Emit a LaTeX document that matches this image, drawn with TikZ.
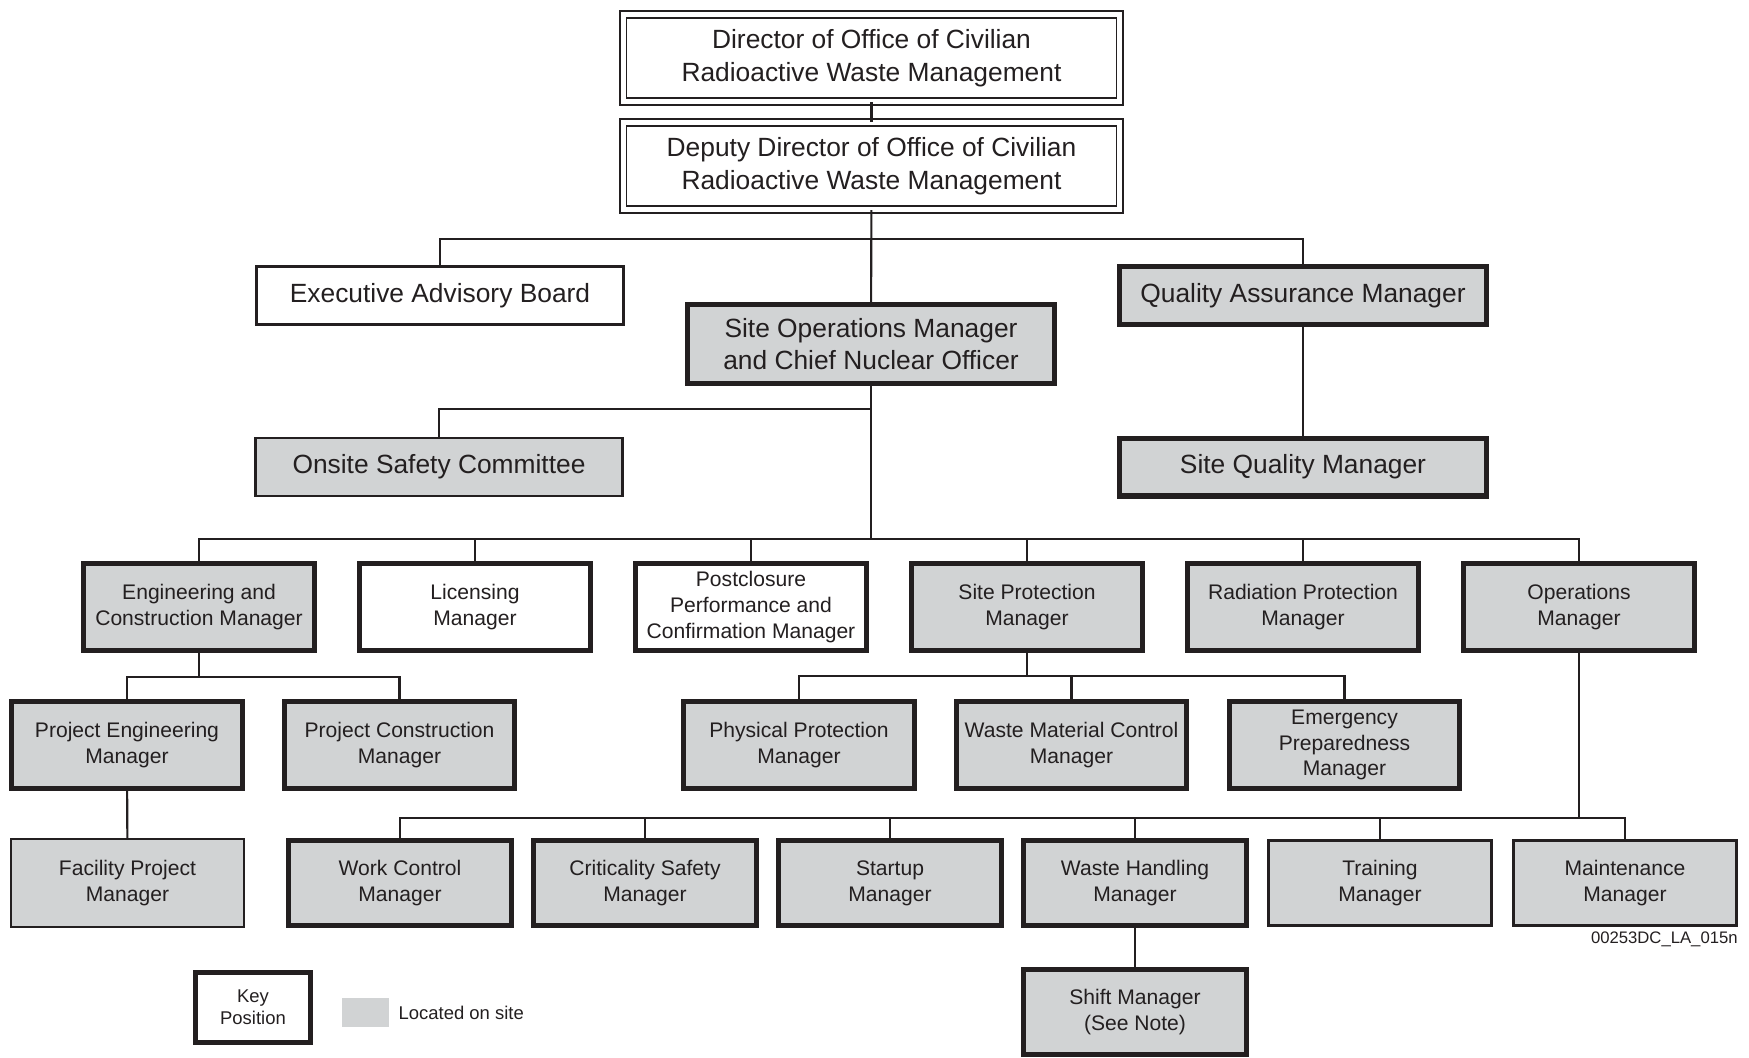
\documentclass[tikz,border=0pt]{standalone}
\usepackage{fontspec}
\setmainfont{Liberation Sans}
\usepackage{xcolor}
\usetikzlibrary{positioning}
\definecolor{sitegray}{RGB}{209,211,212}
\definecolor{ink}{RGB}{35,31,32}

\begin{document}
\begin{tikzpicture}[x=0.02cm,y=-0.02cm,text=ink]
  \tikzset{org box/.style={draw=ink,rectangle,align=center,inner sep=0pt,fill=#1},
           key box/.style={org box=#1,line width=2.85pt},
           thin box/.style={org box=#1,line width=1.4pt},
           head box/.style={org box=white,line width=0.8pt,double,double distance=0.11cm,
                            minimum width=9.93cm,minimum height=1.74cm,font=\fontsize{15}{18.5}\selectfont},
           big/.style={font=\fontsize{15}{18.5}\selectfont},
           small/.style={font=\fontsize{12}{14.6}\selectfont},
           upper row/.style={big,minimum width=7.34cm,minimum height=1.16cm},
           mid row/.style={small,minimum width=4.62cm,minimum height=1.74cm},
           low row/.style={small,minimum width=4.46cm,minimum height=1.7cm},
           link/.style={draw=ink,line width=1.2pt}}
  \path[use as bounding box,fill=white] (0,0) rectangle (1749,1058);

  % top of the chart
  \node [head box] (dir) at (871.5,58) {Director of Office of Civilian\\Radioactive Waste Management};
  \node [head box] (dep) at (871.5,166) {Deputy Director of Office of Civilian\\Radioactive Waste Management};
  \node [thin box=white,upper row] (eab) at (440,295.5) {Executive Advisory Board};
  \node [key box=sitegray,upper row] (qam) at (1303,295.5) {Quality Assurance Manager};
  \node [key box=sitegray,big,minimum width=7.34cm,minimum height=1.58cm] (som) at (871,344) {Site Operations Manager\\and Chief Nuclear Officer};
  \node [thin box=sitegray,upper row] (osc) at (439,467) {Onsite Safety Committee};
  \node [key box=sitegray,upper row] (sqm) at (1303,467) {Site Quality Manager};

  % managers under the site operations manager
  \node [key box=sitegray,mid row] (eng) at (199,607) {Engineering and\\Construction Manager};
  \node [key box=white,mid row] (lic) at (475,607) {Licensing\\Manager};
  \node [key box=white,mid row] (pcl) at (751,607) {Postclosure\\Performance and\\Confirmation Manager};
  \node [key box=sitegray,mid row] (spm) at (1027,607) {Site Protection\\Manager};
  \node [key box=sitegray,mid row] (rpm) at (1303,607) {Radiation Protection\\Manager};
  \node [key box=sitegray,mid row] (ops) at (1579,607) {Operations\\Manager};

  \node [key box=sitegray,mid row] (pem) at (127,745) {Project Engineering\\Manager};
  \node [key box=sitegray,mid row] (pcm) at (399.5,745) {Project Construction\\Manager};
  \node [key box=sitegray,mid row] (ppm) at (799,745) {Physical Protection\\Manager};
  \node [key box=sitegray,mid row] (wmc) at (1071.5,745) {Waste Material Control\\Manager};
  \node [key box=sitegray,mid row] (epm) at (1344.5,745) {Emergency\\Preparedness\\Manager};

  \node [thin box=sitegray,small,minimum width=4.66cm,minimum height=1.76cm] (fpm) at (127.5,883) {Facility Project\\Manager};
  \node [key box=sitegray,low row] (wcm) at (400,883) {Work Control\\Manager};
  \node [key box=sitegray,low row] (csm) at (645,883) {Criticality Safety\\Manager};
  \node [key box=sitegray,low row] (sum) at (890,883) {Startup\\Manager};
  \node [key box=sitegray,low row] (whm) at (1135,883) {Waste Handling\\Manager};
  \node [thin box=sitegray,low row] (trn) at (1380,883) {Training\\Manager};
  \node [thin box=sitegray,low row] (mnt) at (1625,883) {Maintenance\\Manager};
  \node [key box=sitegray,low row] (sft) at (1135,1012) {Shift Manager\\(See Note)};

  % junctions
  \coordinate (j1) at (871,239);
  \coordinate (j2) at (871,409);
  \coordinate (j3) at (871,539);
  \coordinate (j4) at (199,677);
  \coordinate (j5) at (1027,676);
  \coordinate (j6) at (1579,818);

  \draw [link] (dir) -- (dep);
  \draw [link] (dep) -- (som);
  \draw [link] (eab.north) |- (j1) -| (qam.north);
  \draw [link] (qam) -- (sqm);
  \draw [link] (som) -- (j2) -| (osc.north);
  \draw [link] (j2) -- (j3);
  \draw [link] (eng.north) |- (j3) -| (ops.north);
  \foreach \m in {lic,pcl,spm,rpm}
    \draw [link] (\m.north) -- (\m.north |- j3);
  \draw [link] (eng) -- (j4);
  \draw [link] (pem.north) |- (j4) -| (pcm.north);
  \draw [link] (pem) -- (fpm);
  \draw [link] (spm) -- (j5);
  \draw [link] (ppm.north) |- (j5) -| (epm.north);
  \draw [link] (wmc.north) -- (wmc.north |- j5);
  \draw [link] (ops) -- (j6);
  \draw [link] (wcm.north) |- (j6) -| (mnt.north);
  \foreach \m in {csm,sum,whm,trn}
    \draw [link] (\m.north) -- (\m.north |- j6);
  \draw [link] (whm) -- (sft);

  % key
  \node [key box=white,font=\fontsize{10.5}{12.6}\selectfont,minimum width=2.3cm,minimum height=1.4cm] (key) at (253,1007.5) {Key\\Position};
  \node [fill=sitegray,inner sep=0pt,minimum width=0.94cm,minimum height=0.58cm] (swatch) at (365.5,1012.5) {};
  \node [right=0.18cm of swatch,inner sep=0pt,font=\fontsize{10.5}{12.6}\selectfont] (onsite) {Located on site};
  \node [anchor=east,inner sep=0pt,font=\fontsize{9.5}{11}\selectfont] (figid) at (1738,939) {00253DC\_LA\_015n};
\end{tikzpicture}
\end{document}
